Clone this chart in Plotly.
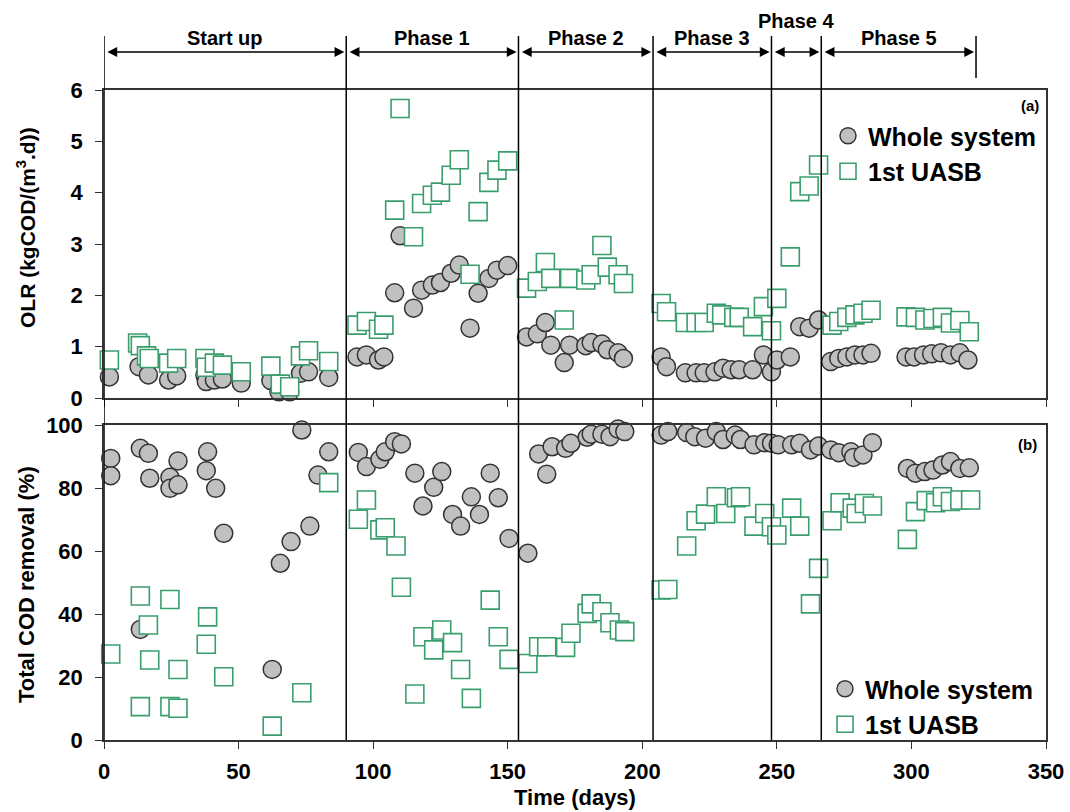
import plotly.graph_objects as go

# ---- Phase boundaries (days) ----
phase_edges = [0, 90, 154, 204, 248, 266.5, 324]
phase_names = ["Start up", "Phase 1", "Phase 2", "Phase 3", "Phase 4", "Phase 5"]

# ---- (a) Organic loading rate, kgCOD/(m3.d) ----
olr_whole_day = [2, 13, 16.5, 24, 27, 37.5, 38, 41, 44, 51, 62, 65, 69, 73, 76, 83.5,
                 94, 97.5, 102, 104, 108, 110, 115, 118, 122, 125, 129, 132, 136, 139, 143, 146, 150,
                 157, 161, 164, 166, 171, 173, 179, 181, 185, 187, 191, 193,
                 207, 209, 216, 220, 223, 227, 230, 233, 236, 241, 245, 248, 250,
                 255, 258.5, 262, 265.5,
                 270, 273, 276, 279, 282, 285, 298, 301, 304.5, 307.5, 311, 314.5, 318, 321]
olr_whole = [0.41, 0.61, 0.45, 0.35, 0.43, 0.45, 0.32, 0.35, 0.37, 0.29, 0.34, 0.12, 0.12, 0.48, 0.51, 0.40,
             0.80, 0.84, 0.74, 0.80, 2.05, 3.16, 1.75, 2.10, 2.20, 2.25, 2.43, 2.59, 1.36, 2.04, 2.33, 2.49, 2.58,
             1.19, 1.25, 1.47, 1.03, 0.69, 1.03, 1.02, 1.08, 1.05, 0.94, 0.88, 0.77,
             0.80, 0.61, 0.49, 0.49, 0.49, 0.51, 0.58, 0.55, 0.55, 0.55, 0.84, 0.51, 0.74,
             0.80, 1.39, 1.36, 1.52,
             0.71, 0.77, 0.80, 0.84, 0.84, 0.87, 0.80, 0.80, 0.84, 0.86, 0.88, 0.84, 0.88, 0.74]

olr_uasb_day = [2, 12.5, 13.5, 15.8, 16.8, 24, 27, 37.5, 38, 41, 44, 51, 62, 65.5, 69, 73, 76, 83.5,
                94, 97.5, 102, 104, 108, 110, 115, 118, 122, 125, 129, 132, 136, 139, 143, 146, 150,
                157, 161, 164, 166, 171, 173, 179, 181, 185, 187, 191, 193,
                207, 209, 216, 220, 223, 227.5, 229.5, 234, 236, 241, 245, 248, 250,
                255, 258.5, 262, 265.5,
                270.5, 273, 276, 279, 282, 285, 298, 301.5, 305, 308, 311.5, 314.5, 318, 321.5]
olr_uasb = [0.74, 1.07, 1.02, 0.82, 0.77, 0.68, 0.77, 0.77, 0.60, 0.68, 0.64, 0.51, 0.62, 0.27, 0.22, 0.82, 0.92, 0.71,
            1.42, 1.49, 1.34, 1.42, 3.66, 5.64, 3.14, 3.79, 3.95, 4.01, 4.34, 4.64, 2.41, 3.63, 4.20, 4.44, 4.62,
            2.14, 2.27, 2.64, 2.33, 1.52, 2.33, 2.30, 2.40, 2.97, 2.55, 2.40, 2.23,
            1.84, 1.68, 1.47, 1.47, 1.47, 1.65, 1.62, 1.57, 1.57, 1.39, 1.78, 1.31, 1.94,
            2.75, 4.02, 4.13, 4.54,
            1.42, 1.49, 1.57, 1.62, 1.65, 1.71, 1.58, 1.57, 1.52, 1.55, 1.57, 1.46, 1.51, 1.29]

# ---- (b) Total COD removal, % ----
cod_whole_day = [2.5, 2.5, 13.5, 13.5, 16.5, 17, 24.5, 24.5, 27.5, 27.5, 38.5, 38, 41.5, 44.5, 62.5, 65.5, 69.5, 73.5, 76.5, 79.5, 83.5,
                 94.5, 97.5, 102.5, 104.5, 108, 110.5, 115.5, 118.5, 122.5, 125.5, 129.5, 132.5, 136.5, 139.5, 143.5, 146.5, 150.5, 157.5,
                 161.5, 164.5, 166.5, 171.5, 173.5, 179.5, 181, 185, 188, 191, 193.5,
                 207, 209.5, 216.5, 219.5, 223.5, 227.5, 230, 234.5, 236.5, 241.5, 245.5, 248, 250.5,
                 255.5, 258.5, 262.5, 265.5,
                 270, 273, 277.5, 278.5, 282, 285.5, 298.5, 301.5, 305, 308, 311.5, 314.5, 318, 321.5]
cod_whole = [89.4, 83.9, 92.6, 35.1, 91.0, 83.1, 83.4, 79.9, 88.6, 81.0, 91.5, 85.5, 79.9, 65.6, 22.4, 56.1, 63.0, 98.4, 67.9, 84.1, 91.5,
             91.3, 86.8, 89.1, 91.5, 94.7, 94.0, 84.7, 74.3, 80.2, 85.2, 71.6, 67.9, 77.2, 71.6, 84.7, 76.9, 64.0, 59.3,
             90.8, 84.4, 93.1, 92.6, 94.2, 96.1, 97.1, 97.1, 96.3, 98.7, 97.9,
             96.8, 97.9, 97.6, 96.3, 95.8, 97.9, 95.4, 96.8, 95.4, 93.7, 94.4, 94.2, 93.7,
             93.7, 94.2, 92.1, 93.3,
             92.1, 91.2, 91.5, 89.7, 90.5, 94.4, 86.2, 84.7, 85.2, 85.7, 87.3, 88.4, 86.2, 86.4]

cod_uasb_day = [2.5, 13.5, 16.5, 17, 13.5, 24.5, 24.5, 27.5, 27.5, 38.5, 38, 44.5, 62.5, 73.5, 83.5,
                94.5, 97.5, 102.5, 104.5, 108.5, 110.5, 115.5, 118.5, 122.5, 125.5, 129.5, 132.5, 136.5, 143.5, 146.5, 150.5, 157.5,
                161.5, 164.5, 171.5, 173.5, 179.5, 181, 185, 188, 191.5, 193.5,
                207, 209.5, 216.5, 220, 223.5, 227.5, 231, 235, 236.5, 241.5, 245.5, 248, 250,
                255.5, 258.5, 262.5, 265.5,
                270.5, 273.5, 278, 279.5, 282.5, 285.5, 298.5, 301.5, 305.5, 309, 311.5, 314.5, 318, 322]
cod_uasb = [27.3, 45.7, 36.5, 25.4, 10.6, 44.6, 10.6, 22.4, 10.1, 39.1, 30.4, 20.1, 4.4, 15.0, 81.7,
            70.1, 76.2, 66.7, 67.4, 61.6, 48.5, 14.6, 32.8, 28.6, 34.9, 30.9, 22.4, 13.2, 44.4, 32.8, 25.6, 24.3,
            29.6, 29.6, 29.4, 33.9, 40.2, 43.2, 40.7, 37.2, 34.9, 34.4,
            47.6, 47.8, 61.6, 69.6, 71.7, 77.2, 71.9, 76.9, 77.2, 67.9, 71.9, 67.7, 65.1,
            73.6, 67.9, 43.2, 54.5,
            69.6, 75.3, 73.6, 71.9, 75.1, 74.3, 63.7, 72.5, 76.0, 75.3, 77.2, 75.7, 76.2, 76.2]

FONT = "Liberation Sans, Arial, Helvetica, sans-serif"
GREEN = "#3a9e6c"
circle_style = dict(symbol="circle", size=18, color="#c0c0c0", line=dict(color="#333333", width=1.5))
square_style = dict(symbol="square", size=18, color="white", line=dict(color=GREEN, width=1.6))

# Figure geometry in pixels (plot area spans x 104..1046, y 90..740)
W, H = 1070, 812
L, R, T, B = 104, 24, 90, 72
PW, PH = W - L - R, H - T - B


def px_x(px):
    return (px - L) / PW


def px_y(py):
    return (H - B - py) / PH


fig = go.Figure()
fig.add_trace(go.Scatter(x=olr_whole_day, y=olr_whole, mode="markers", name="Whole system",
                         marker=circle_style, xaxis="x", yaxis="y", legend="legend", cliponaxis=False))
fig.add_trace(go.Scatter(x=olr_uasb_day, y=olr_uasb, mode="markers", name="1st UASB",
                         marker=square_style, xaxis="x", yaxis="y", legend="legend", cliponaxis=False))
fig.add_trace(go.Scatter(x=cod_whole_day, y=cod_whole, mode="markers", name="Whole system",
                         marker=circle_style, xaxis="x2", yaxis="y2", legend="legend2", cliponaxis=False))
fig.add_trace(go.Scatter(x=cod_uasb_day, y=cod_uasb, mode="markers", name="1st UASB",
                         marker=square_style, xaxis="x2", yaxis="y2", legend="legend2", cliponaxis=False))

tick_font = dict(family=FONT, size=22, color="black", weight="bold")
axis_common = dict(showline=True, linecolor="#333333", linewidth=1.5, mirror=True,
                   ticks="outside", ticklen=7, tickcolor="#333333", tickwidth=1.2,
                   showgrid=False, zeroline=False, tickfont=tick_font, automargin=False)

legend_font = dict(family=FONT, size=25, weight="bold", color="black")

fig.update_layout(
    width=W, height=H,
    margin=dict(l=L, r=R, t=T, b=B),
    paper_bgcolor="white", plot_bgcolor="white",
    font=dict(family=FONT, color="black"),
    xaxis=dict(domain=[0, 1], range=[0, 350], dtick=50, showticklabels=False,
               anchor="y", **axis_common),
    yaxis=dict(domain=[px_y(398), 1], range=[0, 6], dtick=1, anchor="x",
               ticklabelstandoff=8, **axis_common),
    xaxis2=dict(domain=[0, 1], range=[0, 350], dtick=50, anchor="y2",
                ticklabelstandoff=4,
                title=dict(text="Time (days)", font=dict(family=FONT, size=22, weight="bold"), standoff=6),
                **axis_common),
    yaxis2=dict(domain=[0, px_y(425)], range=[0, 100], dtick=20, anchor="x2",
                ticklabelstandoff=8, **axis_common),
    legend=dict(x=px_x(828), y=px_y(113), xanchor="left", yanchor="top", bgcolor="rgba(0,0,0,0)",
                font=legend_font, tracegroupgap=0, itemwidth=30),
    legend2=dict(x=px_x(825), y=px_y(666), xanchor="left", yanchor="top", bgcolor="rgba(0,0,0,0)",
                 font=legend_font, tracegroupgap=0, itemwidth=30),
    showlegend=True,
)

# Phase dividers spanning both panels and the header
line_top = px_y(36)
for i, d in enumerate(phase_edges):
    y0 = px_y(78) if i == len(phase_edges) - 1 else 0
    fig.add_shape(type="line", xref="x", yref="paper", x0=d, x1=d, y0=y0, y1=line_top,
                  line=dict(color="black", width=1.5))

# Double-headed arrows and phase labels
arrow_y = px_y(52)
gap = 0.7
for i, name in enumerate(phase_names):
    a, b = phase_edges[i], phase_edges[i + 1]
    fig.add_annotation(x=b - gap, y=arrow_y, xref="x", yref="paper",
                       ax=a + gap, ay=0, axref="x", ayref="pixel",
                       text="", showarrow=True, arrowhead=2, arrowside="end+start",
                       arrowsize=1.4, arrowwidth=1.4, arrowcolor="black", standoff=0, startstandoff=0)
    label_y = px_y(21) if name == "Phase 4" else px_y(38)
    fig.add_annotation(x=(a + b) / 2, y=label_y, xref="x", yref="paper", text=name,
                       showarrow=False, xanchor="center", yanchor="middle",
                       font=dict(family=FONT, size=20, weight="bold", color="black"))

# Panel tags
fig.add_annotation(x=px_x(1030), y=px_y(106), xref="paper", yref="paper", text="(a)", showarrow=False,
                   xanchor="center", yanchor="middle", font=dict(family=FONT, size=15, weight="bold"))
fig.add_annotation(x=px_x(1027), y=px_y(444), xref="paper", yref="paper", text="(b)", showarrow=False,
                   xanchor="center", yanchor="middle", font=dict(family=FONT, size=15, weight="bold"))

# Y-axis titles
fig.add_annotation(x=px_x(26), y=px_y(228), xref="paper", yref="paper",
                   text="OLR (kgCOD/(m<sup>3</sup>.d))", textangle=-90, showarrow=False,
                   xanchor="center", yanchor="middle",
                   font=dict(family=FONT, size=21, weight="bold"))
fig.add_annotation(x=px_x(26), y=px_y(585), xref="paper", yref="paper",
                   text="Total COD removal (%)", textangle=-90, showarrow=False,
                   xanchor="center", yanchor="middle",
                   font=dict(family=FONT, size=22, weight="bold"))

fig.write_html("out.html")
